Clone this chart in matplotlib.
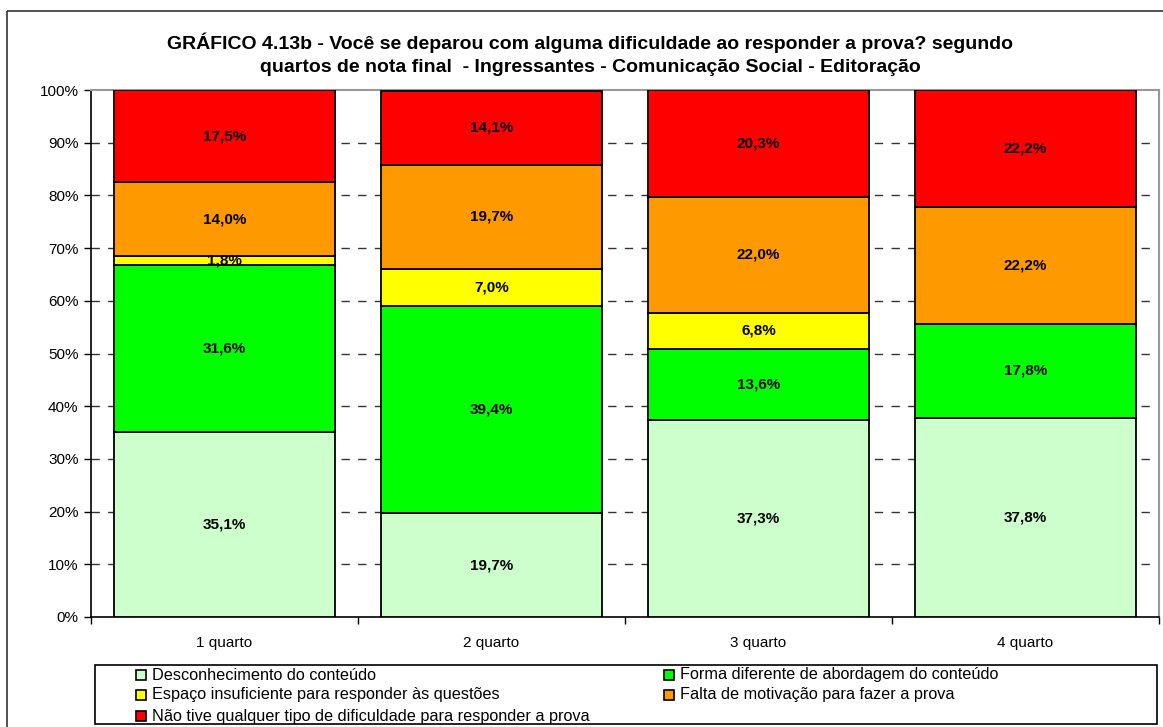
import matplotlib
matplotlib.use("Agg")
import matplotlib.pyplot as plt
from matplotlib.patches import Rectangle
import numpy as np

plt.rcParams['font.family'] = ['Liberation Sans', 'DejaVu Sans']

categories = ["1 quarto", "2 quarto", "3 quarto", "4 quarto"]
series_names = [
    "Desconhecimento do conteúdo",
    "Forma diferente de abordagem do conteúdo",
    "Espaço insuficiente para responder às questões",
    "Falta de motivação para fazer a prova",
    "Não tive qualquer tipo de dificuldade para responder a prova",
]
desconhecimento = [35.1, 19.7, 37.3, 37.8]
forma_diferente = [31.6, 39.4, 13.6, 17.8]
espaco_insuficiente = [1.8, 7.0, 6.8, 0.0]
falta_motivacao = [14.0, 19.7, 22.0, 22.2]
sem_dificuldade = [17.5, 14.1, 20.3, 22.2]
colors = ["#CCFFCC", "#00FF00", "#FFFF00", "#FF9900", "#FF0000"]
yticks = [0, 10, 20, 30, 40, 50, 60, 70, 80, 90, 100]

series = [desconhecimento, forma_diferente, espaco_insuficiente,
          falta_motivacao, sem_dificuldade]

W, H = 1163, 727
fig = plt.figure(figsize=(W / 100, H / 100), dpi=100)

# outer chart frame
fig.patches.append(Rectangle((7 / W, 1 - 11 / H), 1.2, -1.2,
                             transform=fig.transFigure, fill=False,
                             edgecolor="#333333", lw=1.2, zorder=0))

px_l, px_r, px_t, px_b = 91, 1159, 90, 617
ax = fig.add_axes([px_l / W, 1 - px_b / H, (px_r - px_l) / W, (px_b - px_t) / H])

x = np.arange(len(categories))
bottom = np.zeros(len(categories))
for vals, col in zip(series, colors):
    vals = np.array(vals)
    ax.bar(x, vals, width=0.83, bottom=bottom, color=col, edgecolor="black",
           linewidth=1.3, zorder=3)
    for xi, v, b in zip(x, vals, bottom):
        if v > 0:
            ax.text(xi, b + v / 2, f"{v:.1f}%".replace(".", ","),
                    ha="center", va="center", fontsize=11,
                    fontweight="bold", zorder=4)
    bottom += vals

ax.set_xlim(-0.5, len(categories) - 0.5)
ax.set_ylim(0, 100)
ax.set_yticks(yticks)
ax.set_yticklabels([f"{t}%" for t in yticks], fontsize=11)
ax.set_xticks(x)
ax.set_xticklabels(categories, fontsize=11)
ax.tick_params(axis="x", length=0, pad=14)
ax.set_xticks(np.arange(-0.5, len(categories)), minor=True)
ax.tick_params(axis="x", which="minor", length=5, width=1, color="black")
ax.tick_params(axis="y", length=5, width=1, color="black", pad=4)

for t in yticks[1:-1]:
    ax.axhline(t, color="#333333", lw=1, ls=(0, (6, 6)), zorder=1)

for side in ["left", "bottom"]:
    ax.spines[side].set_color("black")
    ax.spines[side].set_linewidth(1.2)
for side in ["top", "right"]:
    ax.spines[side].set_color("#999999")
    ax.spines[side].set_linewidth(1.5)

fig.text(590 / W, 1 - 43 / H,
         "GRÁFICO 4.13b - Você se deparou com alguma dificuldade ao responder a prova? segundo",
         ha="center", va="center", fontsize=14, fontweight="bold")
fig.text(590 / W, 1 - 67 / H,
         "quartos de nota final  - Ingressantes - Comunicação Social - Editoração",
         ha="center", va="center", fontsize=14, fontweight="bold")

# legend box
lg_l, lg_r, lg_t, lg_b = 95, 1157, 665, 724
fig.patches.append(Rectangle((lg_l / W, 1 - lg_b / H), (lg_r - lg_l) / W,
                             (lg_b - lg_t) / H, transform=fig.transFigure,
                             fill=True, facecolor="white", edgecolor="black",
                             lw=1.2, zorder=1))
legend_pos = [(141, 675), (669, 675), (141, 695), (669, 695), (141, 716)]
sq = 10
for name, col, (mx, my) in zip(series_names, colors, legend_pos):
    fig.patches.append(Rectangle(((mx - sq / 2) / W, 1 - (my + sq / 2) / H),
                                 sq / W, sq / H, transform=fig.transFigure,
                                 facecolor=col, edgecolor="black", lw=1.2,
                                 zorder=2))
    fig.text((mx + 11) / W, 1 - my / H, name, ha="left", va="center",
             fontsize=11.7, zorder=3)

fig.savefig("out.png", dpi=100)
